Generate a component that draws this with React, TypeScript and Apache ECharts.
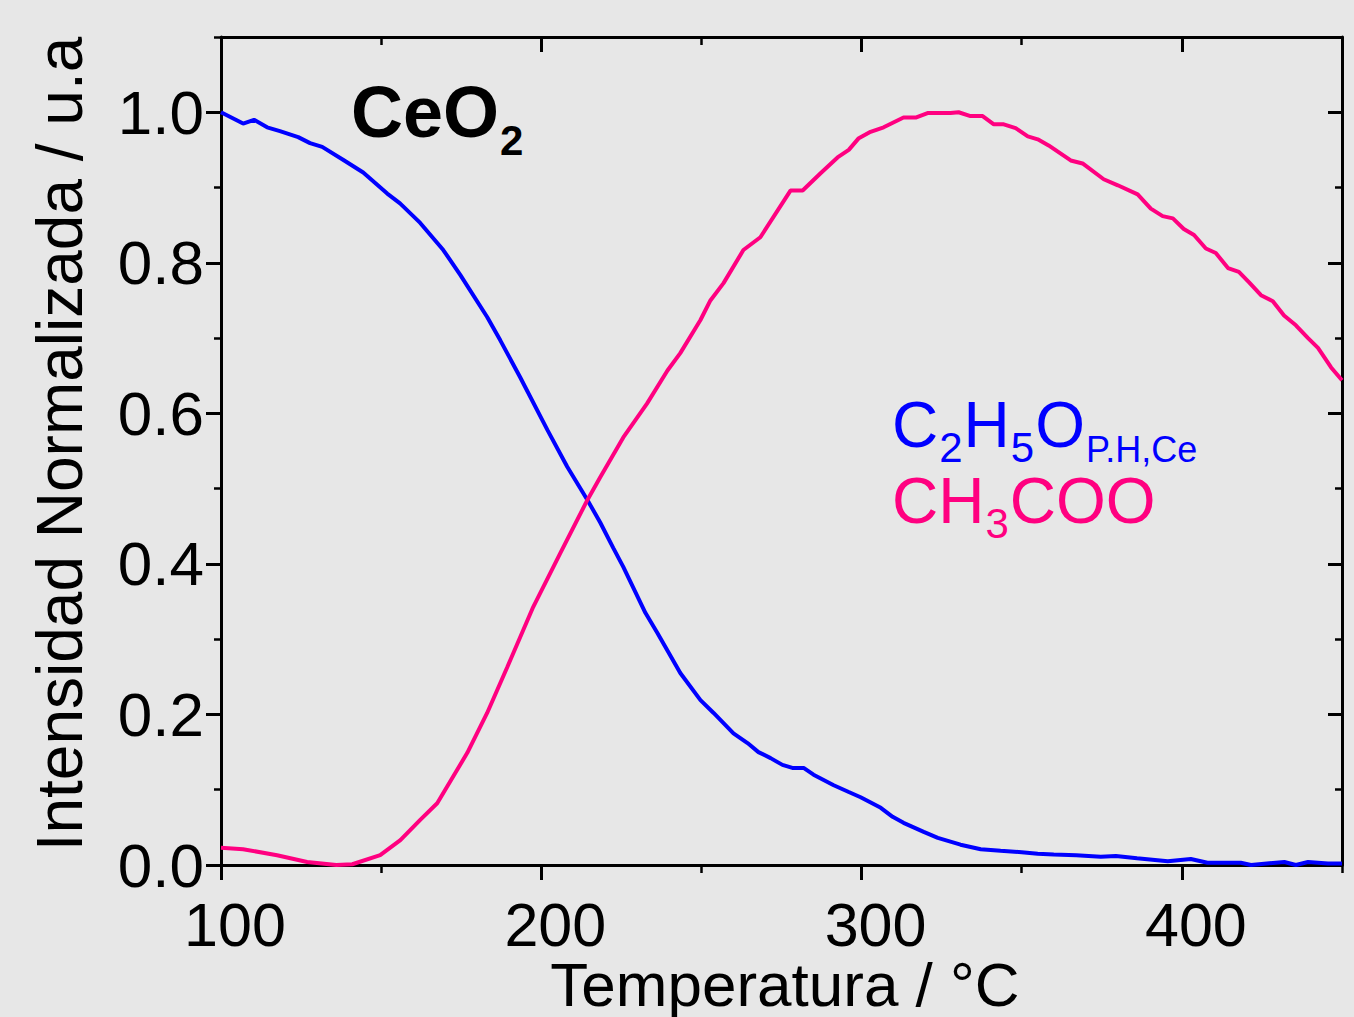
import React, { useEffect, useRef } from 'react';
import * as echarts from 'echarts';

// ---- Data ----
const ethoxyTemps = [100, 106.9, 110.3, 114.4, 118.4, 124.1, 127.8, 131.6, 138.1, 144.4, 151.9, 155.9, 162.2, 169.4, 174.7, 183.1, 187.2, 193.4, 201.9, 208.1, 214.4, 218.4, 222.5, 225.6, 232.5, 236.3, 243.4, 249.7, 253.8, 260, 264.4, 267.8, 271.6, 275.3, 278.4, 281.9, 285, 291.3, 296, 299.7, 306, 309.7, 313.1, 319.4, 323.8, 330.9, 337.2, 343.4, 350, 355, 360, 367, 374.7, 379.4, 386, 395.6, 402.8, 408, 418.4, 421.6, 432, 435.6, 439.4, 445.6, 450];
const ethoxyValues = [1.0, 0.985, 0.99, 0.98, 0.975, 0.967, 0.959, 0.954, 0.937, 0.92, 0.892, 0.879, 0.853, 0.817, 0.784, 0.728, 0.697, 0.648, 0.578, 0.529, 0.485, 0.455, 0.421, 0.396, 0.335, 0.308, 0.255, 0.219, 0.202, 0.175, 0.162, 0.15, 0.142, 0.133, 0.129, 0.129, 0.12, 0.106, 0.097, 0.09, 0.076, 0.064, 0.056, 0.044, 0.036, 0.027, 0.021, 0.019, 0.017, 0.015, 0.014, 0.013, 0.011, 0.012, 0.009, 0.005, 0.008, 0.003, 0.003, 0.0, 0.004, 0.0, 0.004, 0.002, 0.002];

const acetateTemps = [100, 106.9, 117.5, 126.9, 136, 141, 149.7, 156, 162.2, 167.5, 176.9, 183.1, 189.4, 197.5, 205.9, 214.4, 218.4, 225.6, 233, 239.4, 243.4, 249.7, 252.8, 256.9, 263.1, 268.4, 277.8, 281.6, 287.2, 292.5, 296, 299, 302.8, 306.9, 313.1, 316.9, 320.6, 327.8, 330.3, 334, 337.8, 341.3, 344.4, 348.1, 351.9, 355, 358.4, 365.3, 369, 375.6, 380, 386.2, 390.3, 394, 397.2, 400.6, 403.8, 407.5, 410.6, 414.4, 417.8, 421, 424.7, 428.4, 431.9, 435.6, 439.4, 442.5, 446.6, 450];
const acetateValues = [0.023, 0.021, 0.013, 0.004, 0.0, 0.001, 0.013, 0.033, 0.06, 0.082, 0.149, 0.202, 0.263, 0.343, 0.414, 0.485, 0.515, 0.568, 0.613, 0.657, 0.68, 0.724, 0.75, 0.773, 0.817, 0.834, 0.896, 0.896, 0.919, 0.94, 0.95, 0.965, 0.974, 0.98, 0.993, 0.993, 0.999, 0.999, 1.0, 0.995, 0.995, 0.984, 0.984, 0.979, 0.968, 0.964, 0.956, 0.936, 0.932, 0.911, 0.903, 0.891, 0.872, 0.862, 0.859, 0.845, 0.837, 0.819, 0.813, 0.793, 0.788, 0.774, 0.757, 0.749, 0.73, 0.717, 0.7, 0.687, 0.661, 0.644];

const xRange = [100, 450];
const yRange = [0, 1.1];
const xMajor = 100;
const xMinor = 50;
const yMajor = 0.2;
const yMinor = 0.1;

const xTitle = 'Temperatura / °C';
const yTitle = 'Intensidad Normalizada / u.a';

const BLUE = '#0000ff';
const PINK = '#ff0080';
const FONT = '"Liberation Sans", Arial, Helvetica, sans-serif';

type Part = { text: string; size: number; weight?: string; sub?: number };

function measure(text: string, font: string): number {
  const ctx = document.createElement('canvas').getContext('2d');
  if (!ctx) return text.length * 20;
  ctx.font = font;
  return ctx.measureText(text).width;
}

function textRun(parts: Part[], x0: number, baseline: number, color: string): any[] {
  const out: any[] = [];
  let x = x0;
  for (const p of parts) {
    const weight = p.weight || 'normal';
    const font = `${weight} ${p.size}px ${FONT}`;
    const b = baseline + (p.sub || 0);
    out.push({
      type: 'text',
      x,
      y: b - 0.3465 * p.size,
      silent: true,
      z: 100,
      style: {
        text: p.text,
        font,
        fill: color,
        lineHeight: Math.round(p.size * 0.75),
        align: 'left',
        textAlign: 'left',
        verticalAlign: 'middle',
        textVerticalAlign: 'middle',
      },
    });
    x += measure(p.text, font) + 1;
  }
  return out;
}

function axisCommon(min: number, max: number, interval: number) {
  return { type: 'value', min, max, interval, splitLine: { show: false }, scale: false };
}

export default function App() {
  const ref = useRef<HTMLDivElement>(null);

  useEffect(() => {
    if (!ref.current) return;
    const chart = echarts.init(ref.current, null, { renderer: 'svg' });

    const lineAxis = { show: true, onZero: false, lineStyle: { color: '#000', width: 3 } };
    const noLine = { show: false, onZero: false };
    const majorTick = (inside: boolean) => ({ show: true, inside, length: 15, lineStyle: { color: '#000', width: 3 } });
    const minorTick = (inside: boolean) => ({ show: true, inside, length: 8, lineStyle: { color: '#000', width: 2.5 } });

    const xAxes = [
      {
        ...axisCommon(xRange[0], xRange[1], xMajor),
        position: 'bottom',
        axisLine: lineAxis,
        axisTick: majorTick(false),
        axisLabel: {
          show: true,
          showMaxLabel: false,
          fontSize: 61,
          lineHeight: 48,
          fontFamily: FONT,
          color: '#000',
          margin: 36,
          padding: [0, 0, 0, 28],
        },
      },
      {
        ...axisCommon(xRange[0], xRange[1], xMinor),
        position: 'bottom',
        axisLine: noLine,
        axisTick: minorTick(false),
        axisLabel: { show: false },
      },
      {
        ...axisCommon(xRange[0], xRange[1], xMajor),
        position: 'top',
        axisLine: lineAxis,
        axisTick: majorTick(true),
        axisLabel: { show: false },
      },
      {
        ...axisCommon(xRange[0], xRange[1], xMinor),
        position: 'top',
        axisLine: noLine,
        axisTick: minorTick(true),
        axisLabel: { show: false },
      },
    ];

    const yAxes = [
      {
        ...axisCommon(yRange[0], yRange[1], yMajor),
        position: 'left',
        axisLine: lineAxis,
        axisTick: majorTick(false),
        axisLabel: {
          show: true,
          showMaxLabel: false,
          fontSize: 62,
          lineHeight: 50,
          fontFamily: FONT,
          color: '#000',
          margin: 17,
          formatter: (v: number) => v.toFixed(1),
        },
      },
      {
        ...axisCommon(yRange[0], yRange[1], yMinor),
        position: 'left',
        axisLine: noLine,
        axisTick: { ...minorTick(false), length: 7 },
        axisLabel: { show: false },
      },
      {
        ...axisCommon(yRange[0], yRange[1], yMajor),
        position: 'right',
        axisLine: lineAxis,
        axisTick: { ...majorTick(true), length: 14 },
        axisLabel: { show: false },
      },
      {
        ...axisCommon(yRange[0], yRange[1], yMinor),
        position: 'right',
        axisLine: noLine,
        axisTick: { ...minorTick(true), length: 7 },
        axisLabel: { show: false },
      },
    ];

    const graphics: any[] = [
      {
        type: 'text',
        x: 785,
        y: 1006 - 0.3465 * 62,
        silent: true,
        style: {
          text: xTitle,
          font: `normal 62px ${FONT}`,
          lineHeight: 48,
          fill: '#000',
          align: 'center',
          textAlign: 'center',
          verticalAlign: 'middle',
          textVerticalAlign: 'middle',
        },
      },
      {
        type: 'text',
        x: 82 - 0.3465 * 64,
        y: 444,
        rotation: Math.PI / 2,
        silent: true,
        style: {
          text: yTitle,
          font: `normal 64px ${FONT}`,
          lineHeight: 52,
          fill: '#000',
          align: 'center',
          textAlign: 'center',
          verticalAlign: 'middle',
          textVerticalAlign: 'middle',
        },
      },
      ...textRun(
        [
          { text: 'CeO', size: 72, weight: 'bold' },
          { text: '2', size: 42, weight: 'bold', sub: 18 },
        ],
        351,
        137,
        '#000'
      ),
      ...textRun(
        [
          { text: 'C', size: 64 },
          { text: '2', size: 42, sub: 15 },
          { text: 'H', size: 64 },
          { text: '5', size: 42, sub: 15 },
          { text: 'O', size: 64 },
          { text: 'P.H,Ce', size: 36, sub: 15 },
        ],
        892,
        447,
        BLUE
      ),
      ...textRun(
        [
          { text: 'CH', size: 64 },
          { text: '3', size: 42, sub: 15 },
          { text: 'COO', size: 64 },
        ],
        892,
        523,
        PINK
      ),
    ];

    chart.setOption({
      animation: false,
      backgroundColor: '#e7e7e7',
      grid: { left: 221, right: 12, top: 37, bottom: 152, containLabel: false },
      xAxis: xAxes,
      yAxis: yAxes,
      graphic: graphics,
      series: [
        {
          name: 'C2H5O',
          type: 'line',
          xAxisIndex: 0,
          yAxisIndex: 0,
          showSymbol: false,
          symbol: 'none',
          lineStyle: { color: BLUE, width: 4 },
          itemStyle: { color: BLUE },
          data: ethoxyTemps.map((t, i) => [t, ethoxyValues[i]]),
          z: 3,
        },
        {
          name: 'CH3COO',
          type: 'line',
          xAxisIndex: 0,
          yAxisIndex: 0,
          showSymbol: false,
          symbol: 'none',
          lineStyle: { color: PINK, width: 4 },
          itemStyle: { color: PINK },
          data: acetateTemps.map((t, i) => [t, acetateValues[i]]),
          z: 4,
        },
      ],
    });

    return () => {
      chart.dispose();
    };
  }, []);

  return (
    <div
      ref={ref}
      style={{ position: 'fixed', left: 0, top: 0, width: 1354, height: 1017 }}
    />
  );
}
